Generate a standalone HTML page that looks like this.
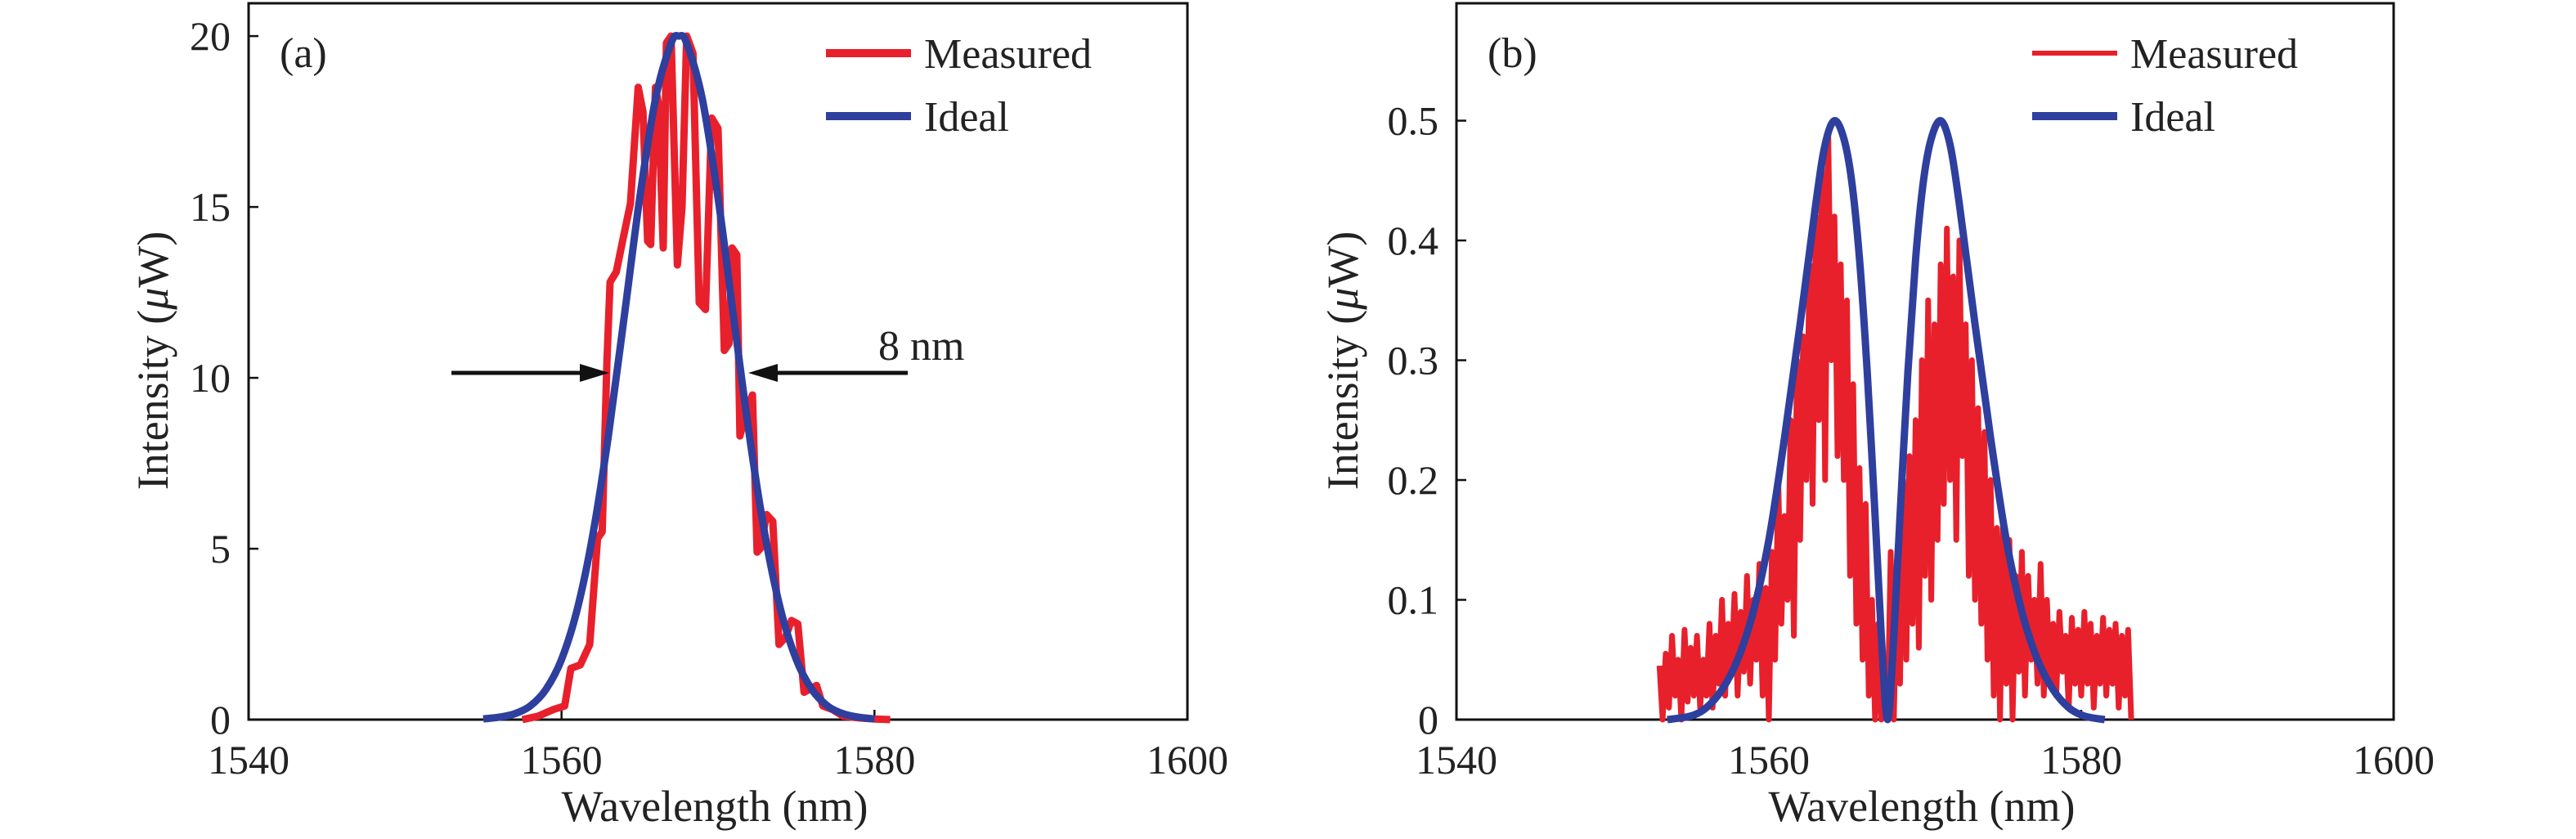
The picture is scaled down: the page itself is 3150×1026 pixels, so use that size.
<!DOCTYPE html>
<html><head><meta charset="utf-8">
<style>
html,body{margin:0;padding:0;background:#fff;}
svg{display:block;}
text{font-family:"Liberation Serif","DejaVu Serif",serif;}
</style></head>
<body>
<svg id="fig" width="3150" height="1026" viewBox="0 0 3150 1026" xmlns="http://www.w3.org/2000/svg" font-family="Liberation Serif, DejaVu Serif, serif">
</svg>
<script>
// ---- Panel (a) data ----
const xTicks = [1540, 1560, 1580, 1600];
const yTicksA = [0, 5, 10, 15, 20];
const yTicksB = [0, 0.1, 0.2, 0.3, 0.4, 0.5];
const measAWl = [1557.5,1558.5,1559.5,1560.2,1560.6,1561.2,1561.8,1562.3,1562.6,1562.9,1563.1,1563.5,1563.9,1564.4,1564.9,1565.2,1565.5,1565.7,1566.0,1566.2,1566.5,1566.7,1567.0,1567.4,1567.7,1568.0,1568.4,1568.8,1569.2,1569.6,1570.0,1570.4,1570.7,1570.9,1571.2,1571.4,1571.8,1572.2,1572.5,1572.7,1573.1,1573.5,1573.9,1574.3,1574.7,1575.1,1575.5,1575.9,1576.3,1576.7,1577.3,1578.0,1579.0,1580.0,1581.0];
const measAVal = [0.0,0.1,0.3,0.4,1.5,1.6,2.2,5.3,5.5,10.5,12.8,13.1,14.0,15.1,18.5,17.8,14.0,13.9,18.5,18.0,13.8,19.8,20.0,13.3,15.0,20.0,19.5,12.2,12.0,17.6,17.3,10.8,11.0,13.8,13.6,8.3,9.0,9.5,4.9,5.0,6.0,5.8,2.2,2.4,2.9,2.8,0.8,0.9,1.0,0.4,0.3,0.1,0.05,0.02,0.0];
const idealAWl = [1555,1556,1557,1558,1559,1560,1561,1562,1563,1564,1565,1566,1567,1567.5,1568,1569,1570,1571,1572,1573,1574,1575,1576,1577,1578,1579,1580];
const idealAVal = [0.02,0.07,0.17,0.40,0.88,1.76,3.22,5.41,8.33,11.77,15.27,18.15,19.79,20.0,19.79,18.15,15.27,11.77,8.33,5.41,3.22,1.76,0.88,0.40,0.17,0.07,0.02];
// ---- Panel (b) data ----
const measBStart = 1553.0;
const measBStep = 0.2;
const measBVal = [0.045,0.0,0.055,0.01,0.07,0.02,0.05,0.0,0.075,0.015,0.06,0.02,0.07,0.01,0.05,
0.02,0.08,0.01,0.07,0.03,0.1,0.02,0.08,0.04,0.105,
0.02,0.09,0.04,0.12,0.03,0.1,0.05,0.13,0.02,0.11,
0.0,0.14,0.05,0.2,0.08,0.17,0.1,0.25,0.07,0.3,
0.15,0.32,0.2,0.38,0.18,0.42,0.25,0.47,0.2,0.49,
0.3,0.42,0.22,0.38,0.2,
0.35,0.12,0.28,0.08,0.21,0.05,0.18,0.02,
0.1,0.0,0.08,0.0,0.02,
0.0,0.14,0.0,0.12,
0.03,0.2,0.05,0.22,0.08,0.25,0.06,0.3,
0.12,0.35,0.1,0.33,0.15,
0.38,0.18,0.41,0.2,0.37,0.15,0.4,0.22,0.33,0.12,
0.3,0.1,0.26,0.08,0.24,0.05,0.2,0.02,
0.16,0.0,0.17,0.03,0.15,0.0,0.12,
0.04,0.14,0.02,0.12,0.05,0.1,0.03,0.13,0.02,0.1,
0.03,0.08,0.02,0.09,0.04,0.07,0.01,0.085,0.03,0.075,0.02,0.09,0.03,0.08,0.01,0.07,0.03,0.085,0.02,0.075,0.03,0.08,0.01,0.07,0.02,0.075,
0.0];
const idealBWl = [1553.5,1555,1556,1557,1558,1559,1560,1561,1562,1563,1563.6,1564.2,1564.8,1565.3,1565.8,1566.3,1566.8,1567.2,1567.6,1568.0,1568.4,1568.9,1569.4,1569.9,1570.4,1571.0,1571.6,1572.2,1573.2,1574.2,1575.2,1576.2,1577.2,1578.2,1579.2,1580.2,1581.5];
const idealBVal = [0,0.003,0.01,0.025,0.05,0.09,0.15,0.235,0.33,0.43,0.48,0.5,0.485,0.45,0.385,0.29,0.17,0.07,0,0.07,0.17,0.29,0.385,0.45,0.485,0.5,0.48,0.43,0.33,0.235,0.15,0.09,0.05,0.025,0.01,0.003,0];

const NS = "http://www.w3.org/2000/svg";
const svg = document.getElementById('fig');
function mk(tag, attrs, parent){
  const e = document.createElementNS(NS, tag);
  for (const k in attrs) e.setAttribute(k, attrs[k]);
  (parent||svg).appendChild(e);
  return e;
}
const RED = "#e8202b", BLUE = "#2e3f9e";
const FF = '"Liberation Serif","DejaVu Serif",serif';

function panel(o){
  const g = mk('g', {});
  
  
  const sx = v => o.x0 + (v - 1540) / 60 * (o.x1 - o.x0);
  const sy = v => o.y1 - v / o.ymax * (o.y1 - o.y0);
  const box = mk('rect', {x:o.x0, y:o.y0, width:o.x1-o.x0, height:o.y1-o.y0, fill:'none', stroke:'#111', 'stroke-width':3}, g);
  
  
  xTicks.forEach(t => {
    const X = sx(t);
    const tk = mk('line', {x1:X, x2:X, y1:o.y1, y2:o.y1-12, stroke:'#111', 'stroke-width':2.5}, g);
    
    
    const tl = mk('text', {x:X, y:o.y1+66, 'font-size':50, 'text-anchor':'middle', fill:'#222', 'font-family':FF}, g);
    
    
    tl.textContent = t;
  });
  o.yticks.forEach(t => {
    const Y = sy(t);
    const tk = mk('line', {x1:o.x0, x2:o.x0+12, y1:Y, y2:Y, stroke:'#111', 'stroke-width':2.5}, g);
    
    
    const tl = mk('text', {x:o.x0-22, y:Y+17, 'font-size':50, 'text-anchor':'end', fill:'#222', 'font-family':FF}, g);
    
    
    tl.textContent = t;
  });
  const xt = mk('text', {x:(o.x0+o.x1)/2 - 4, y:1004, 'font-size':54, 'text-anchor':'middle', fill:'#222', 'font-family':FF}, g);
  
  
  xt.textContent = 'Wavelength (nm)';
  const yt = mk('text', {x:0, y:0, 'font-size':54, 'text-anchor':'middle', fill:'#222', 'font-family':FF, transform:`translate(${o.ytx},441) rotate(-90)`}, g);
  
  
  yt.innerHTML = 'Intensity (<tspan font-style="italic">μ</tspan>W)';
  const mpts = o.mwl.map((w,i) => sx(w).toFixed(1)+','+sy(o.mval[i]).toFixed(1)).join(' ');
  const ml = mk('polyline', {points:mpts, fill:'none', stroke:RED, 'stroke-width':o.mw, 'stroke-linejoin':'round'}, g);
  
  
  const P = o.iwl.map((w,i) => [sx(w), sy(o.ival[i])]);
  let d = `M${P[0][0]},${P[0][1]}`;
  for (let i=0;i<P.length-1;i++){
    const p0=P[Math.max(0,i-1)], p1=P[i], p2=P[i+1], p3=P[Math.min(P.length-1,i+2)];
    const c1=[p1[0]+(p2[0]-p0[0])/6, p1[1]+(p2[1]-p0[1])/6];
    const c2=[p2[0]-(p3[0]-p1[0])/6, p2[1]-(p3[1]-p1[1])/6];
    d += ` C${c1[0].toFixed(1)},${c1[1].toFixed(1)} ${c2[0].toFixed(1)},${c2[1].toFixed(1)} ${p2[0].toFixed(1)},${p2[1].toFixed(1)}`;
  }
  const il = mk('path', {d:d, fill:'none', stroke:BLUE, 'stroke-width':9}, g);
  
  
  const lab = mk('text', {x:o.x0+38, y:82, 'font-size':52, fill:'#222', 'font-family':FF}, g);
  
  
  lab.textContent = o.label;
  const lg = mk('g', {}, g);
  
  
  [['Measured', RED, 65, o.legMw], ['Ideal', BLUE, 142, 10]].forEach(([t,c,y,w]) => {
    const ll = mk('line', {x1:o.legX, x2:o.legX+104, y1:y, y2:y, stroke:c, 'stroke-width':w}, lg);
    
    
    const lt = mk('text', {x:o.legX+120, y:y+18, 'font-size':52, fill:'#222', 'font-family':FF}, lg);
    
    
    lt.textContent = t;
  });
  return {g, sx, sy};
}

const A = panel({name:'panel-a', x0:304, x1:1452, y0:4, y1:880, ymax:20.96, yticks:yTicksA,
  mwl:measAWl, mval:measAVal, iwl:idealAWl, ival:idealAVal, mw:9, legMw:10, legX:1010, label:'(a)', ytx:205});

const measBWl = measBVal.map((v,i) => measBStart + i*measBStep);
const B = panel({name:'panel-b', x0:1781, x1:2927, y0:4, y1:880, ymax:0.598, yticks:yTicksB,
  mwl:measBWl, mval:measBVal, iwl:idealBWl, ival:idealBVal, mw:7, legMw:6, legX:2485, label:'(b)', ytx:1660});

const arrowY = 456;
function arrow(x1, x2, name){
  const dir = Math.sign(x2 - x1);
  const l = mk('line', {x1:x1, x2:x2 - dir*30, y1:arrowY, y2:arrowY, stroke:'#111', 'stroke-width':5}, A.g);
  
  
  const h = mk('polygon', {points:`${x2},${arrowY} ${x2-dir*36},${arrowY-11} ${x2-dir*36},${arrowY+11}`, fill:'#111'}, A.g);
  
  
}
arrow(552, 745, 'fwhm-arrow-left');
arrow(1110, 915, 'fwhm-arrow-right');
const fw = mk('text', {x:1074, y:440, 'font-size':52, fill:'#222', 'font-family':FF}, A.g);


fw.textContent = '8 nm';
</script>
</body></html>
